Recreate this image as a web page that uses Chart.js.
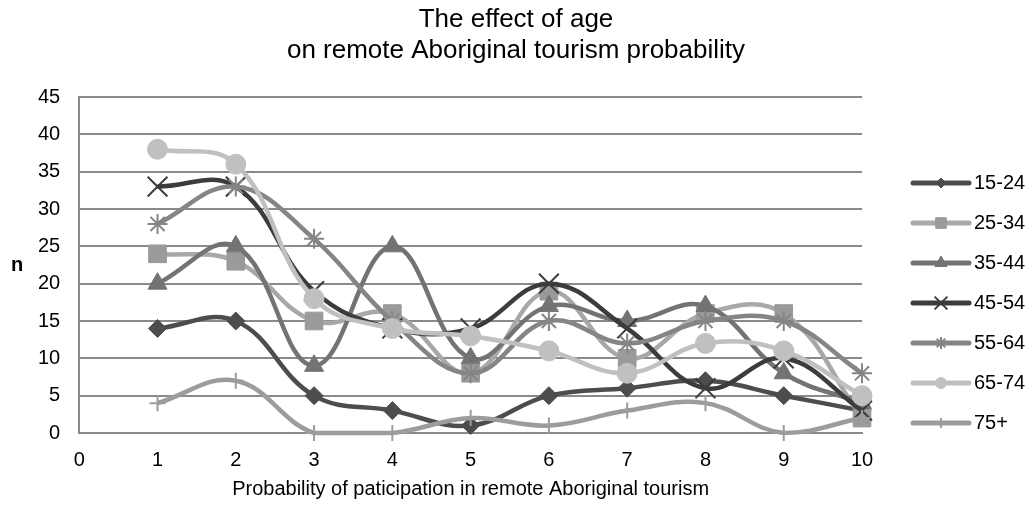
<!DOCTYPE html>
<html>
<head>
<meta charset="utf-8">
<title>The effect of age on remote Aboriginal tourism probability</title>
<script src="https://cdn.jsdelivr.net/npm/chart.js@4.4.0/dist/chart.umd.min.js"></script>
<style>
  html, body { margin: 0; padding: 0; background: #fff; }
  #wrap { width: 1032px; height: 508px; }
</style>
</head>
<body>
<div id="wrap"><canvas id="ageChart"></canvas></div>
<script>
// x values (probability score 1-10)
const probability = [1, 2, 3, 4, 5, 6, 7, 8, 9, 10];

// counts per age group
const age1524 = [14, 15, 5, 3, 1, 5, 6, 7, 5, 3];
const age2534 = [24, 23, 15, 16, 8, 19, 10, 16, 16, 2];
const age3544 = [20, 25, 9, 25, 10, 17, 15, 17, 8, 4];
const age4554 = [33, 33, 19, 14, 14, 20, 14, 6, 10, 3];
const age5564 = [28, 33, 26, 15, 8, 15, 12, 15, 15, 8];
const age6574 = [38, 36, 18, 14, 13, 11, 8, 12, 11, 5];
const age75plus = [4, 7, 0, 0, 2, 1, 3, 4, 0, 2];

const ageGroups = ['15-24', '25-34', '35-44', '45-54', '55-64', '65-74', '75+'];
const groupValues = [age1524, age2534, age3544, age4554, age5564, age6574, age75plus];

const titleLines = ['The effect of age', 'on remote Aboriginal tourism probability'];
const xTitle = 'Probability of paticipation in remote Aboriginal tourism';
const yTitle = 'n';

// styling
const lineColors = ['#4d4d4d', '#a8a8a8', '#737373', '#3c3c3c', '#858585', '#c0c0c0', '#9c9c9c'];
const markerColors = ['#4d4d4d', '#9a9a9a', '#737373', '#3c3c3c', '#858585', '#c0c0c0', '#9c9c9c'];
const markerStyles = ['rectRot', 'rect', 'triangle', 'crossRot', 'star', 'circle', 'cross'];
const markerRadius = [9, 12.5, 11, 14, 10, 10, 8];
const legendRadius = [5, 7.5, 7, 9, 6, 5.5, 5];
const markerBorder = [1, 1, 1, 2, 2, 1, 2];

const FONT = '"Liberation Sans", Arial, sans-serif';
Chart.defaults.font.family = FONT;
Chart.defaults.color = '#000';

// title centred on the whole picture, legend with line + marker,
// and the two axis titles (the "n" stays upright)
const chartText = {
  id: 'chartText',
  afterDraw(chart) {
    const ctx = chart.ctx;
    const area = chart.chartArea;
    ctx.save();
    ctx.fillStyle = '#000';
    ctx.textBaseline = 'middle';
    ctx.textAlign = 'center';
    ctx.font = '26px ' + FONT;
    titleLines.forEach((line, i) => ctx.fillText(line, chart.width / 2, 20 + i * 31));

    const x0 = area.right + 51;
    chart.data.datasets.forEach((ds, i) => {
      const y = 183 + i * 40;
      ctx.strokeStyle = ds.borderColor;
      ctx.lineWidth = 5;
      ctx.lineCap = 'round';
      ctx.beginPath();
      ctx.moveTo(x0, y);
      ctx.lineTo(x0 + 56, y);
      ctx.stroke();
      ctx.lineCap = 'butt';
      ctx.fillStyle = ds.pointBackgroundColor;
      ctx.strokeStyle = ds.pointBorderColor;
      ctx.lineWidth = ds.pointBorderWidth;
      if (Chart.helpers && Chart.helpers.drawPoint) {
        Chart.helpers.drawPoint(ctx, {
          pointStyle: ds.pointStyle, radius: legendRadius[i], rotation: 0, borderWidth: ds.pointBorderWidth
        }, x0 + 28, y);
      }
      ctx.fillStyle = '#000';
      ctx.font = '20px ' + FONT;
      ctx.textAlign = 'left';
      ctx.fillText(ds.label, x0 + 61, y);
    });

    ctx.textAlign = 'center';
    ctx.font = 'bold 20px ' + FONT;
    ctx.fillText(yTitle, 17, (area.top + area.bottom) / 2);
    ctx.font = '20px ' + FONT;
    ctx.fillText(xTitle, (area.left + area.right) / 2, 489);
    ctx.restore();
  }
};

const ctx = document.getElementById('ageChart').getContext('2d');
new Chart(ctx, {
  type: 'line',
  data: {
    datasets: ageGroups.map((label, i) => ({
      label: label,
      data: probability.map((p, k) => ({ x: p, y: groupValues[i][k] })),
      borderColor: lineColors[i],
      backgroundColor: markerColors[i],
      pointBackgroundColor: markerColors[i],
      pointBorderColor: markerColors[i],
      pointStyle: markerStyles[i],
      pointRadius: markerRadius[i],
      pointBorderWidth: markerBorder[i],
      borderWidth: 4.5,
      tension: 0.4,
      fill: false,
      clip: 16,
      order: ageGroups.length - i
    }))
  },
  options: {
    responsive: true,
    maintainAspectRatio: false,
    animation: false,
    layout: { padding: { left: 19, right: 170, top: 97, bottom: 21 } },
    plugins: {
      legend: { display: false },
      tooltip: { enabled: false },
      title: { display: false }
    },
    scales: {
      x: {
        type: 'linear',
        min: 0,
        max: 10,
        ticks: { stepSize: 1, color: '#000', font: { size: 20 }, padding: 15 },
        grid: { display: false, drawTicks: false },
        border: { color: '#8a8a8a', width: 2 }
      },
      y: {
        min: 0,
        max: 45,
        ticks: { stepSize: 5, color: '#000', font: { size: 20 }, padding: 19 },
        grid: { color: '#8a8a8a', lineWidth: 2, drawTicks: false },
        border: { color: '#8a8a8a', width: 2 }
      }
    }
  },
  plugins: [chartText]
});
</script>
</body>
</html>
